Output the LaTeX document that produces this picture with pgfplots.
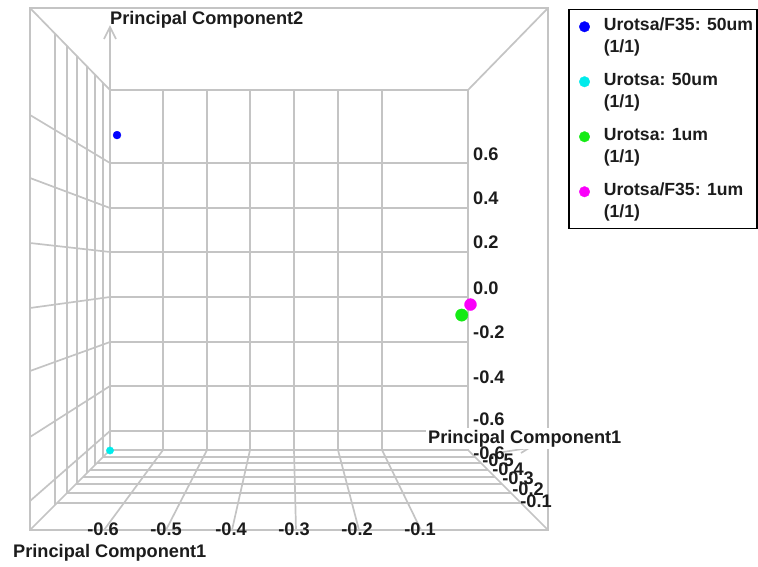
\documentclass[border=0pt]{standalone}
\usepackage{fontspec}
\setmainfont{Liberation Sans}
\usepackage{pgfplots}
\pgfplotsset{compat=1.18}
\definecolor{gridgray}{RGB}{196,196,196}
\definecolor{txt}{RGB}{28,28,28}
\definecolor{ptblue}{RGB}{0,0,255}
\definecolor{ptcyan}{RGB}{0,235,235}
\definecolor{ptgreen}{RGB}{20,235,20}
\definecolor{ptmag}{RGB}{250,0,250}
\newcommand\lab{\fontsize{18.2}{22}\selectfont\bfseries}
\newcommand\leg{\fontsize{17.6}{22}\selectfont\bfseries}
\begin{document}
\begin{tikzpicture}
\path[use as bounding box] (0,0) rectangle (758pt,566pt);
\begin{scope}[x=1pt,y=-1pt,yshift=566pt,g/.style={draw=gridgray,line width=1.7pt}]
% near frame and back wall
\draw[g] (30,8) rectangle (548,530);
\draw[g] (110,90) rectangle (468,450);
\draw[g] (30,8)--(110,90) (548,8)--(468,90) (30,530)--(110,450) (548,530)--(468,450);
% back wall grid
\foreach \x in {163,207,250,294,338,382} \draw[g] (\x,90)--(\x,450);
\foreach \y in {163,208,252,297,342,386,431} \draw[g] (110,\y)--(468,\y);
% left wall
\foreach \yb/\yn in {163/115,208/178,252/243,297/308,342/371,386/437,431/501} \draw[g] (110,\yb)--(30,\yn);
\foreach \x in {55,67,77,87,95,103} \draw[g] (\x,{8+(\x-30)*82/80})--(\x,{560-\x});
% floor
\foreach \y in {457,463,470,477,484,493,503} \draw[g] ({560-\y},\y)--({468+(\y-450)},\y);
\foreach \xb/\xn in {163/104,207/166,250/232,294/296,338/359,382/421} \draw[g] (\xb,450)--(\xn,530);
% axis arrows
\draw[g] (110,90)--(110,27);
\draw[g,line join=miter] (104,39)--(110,27)--(116,39);
\draw[g] (503,452)--(529,448);
\draw[g] (520,444)--(529,448)--(521,453);
% texts
\node[anchor=base west,inner sep=0pt,text=txt] at (110,25) {\lab Principal Component2};
\node[anchor=base west,inner sep=0pt,text=txt] at (13,557) {\lab Principal Component1};
\node[anchor=base west,inner sep=2pt,fill=white,text=txt] at (426,443) {\lab Principal Component1};
\foreach \v/\b in {0.6/161,0.4/205,0.2/249,0.0/294,-0.2/338,-0.4/383,-0.6/425}
  \node[anchor=base west,inner sep=0pt,text=txt] at (473,\b) {\lab \v};
\foreach \v/\x in {-0.6/103,-0.5/166,-0.4/231,-0.3/294,-0.2/357,-0.1/420}
  \node[anchor=base,inner sep=0pt,text=txt] at (\x,535) {\lab \v};
\foreach \v/\x/\b in {-0.6/489/459,-0.5/498/466,-0.4/508/475,-0.3/518/484,-0.2/528/495,-0.1/536/507}
  \node[anchor=base,inner sep=0pt,text=txt] at (\x,\b) {\lab \v};
\end{scope}
\begin{axis}[at={(0pt,0pt)}, anchor=south west, scale only axis,
  width=758pt, height=566pt,
  xmin=-0.97215, xmax=0.75845, ymin=-1.20475, ymax=1.32996,
  hide axis, clip=false,
  legend cell align=left,
  legend style={at={(rel axis cs:0.74934,0.98410)}, anchor=north west,
    draw=black, line width=1.5pt, fill=white,
    inner xsep=4pt, inner ysep=5pt, row sep=11pt, column sep=14pt,
    nodes={inner sep=0pt, text=txt, font=\leg, text height=15.4pt, text depth=28.6pt}},
  legend image code/.code={\path (0pt,10pt); \draw[#1] plot coordinates {(11pt,10pt)};},
  legend image post style={mark size=5.3pt, mark options={line width=0.3pt}},
]
\addplot[only marks, mark=*, color=ptblue, mark size=4pt, mark options={line width=0.3pt}] coordinates {(-0.705,0.725)};
\addlegendentry{\begin{tabular}[t]{@{}l@{}}Urotsa/F35: 50um\\(1/1)\end{tabular}}
\addplot[only marks, mark=*, color=ptcyan, mark size=3.7pt, mark options={line width=0.3pt}] coordinates {(-0.721,-0.6875)};
\addlegendentry{\begin{tabular}[t]{@{}l@{}}Urotsa: 50um\\(1/1)\end{tabular}}
\addplot[only marks, mark=*, color=ptgreen, mark size=6.2pt, mark options={line width=0.3pt}] coordinates {(0.082,-0.081)};
\addlegendentry{\begin{tabular}[t]{@{}l@{}}Urotsa: 1um\\(1/1)\end{tabular}}
\addplot[only marks, mark=*, color=ptmag, mark size=6pt, mark options={line width=0.3pt}] coordinates {(0.102,-0.034)};
\addlegendentry{\begin{tabular}[t]{@{}l@{}}Urotsa/F35: 1um\\(1/1)\end{tabular}}
\end{axis}
\end{tikzpicture}
\end{document}
